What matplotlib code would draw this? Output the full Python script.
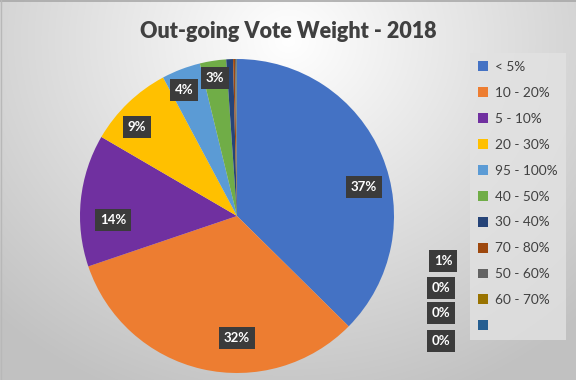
import numpy as np
import matplotlib
matplotlib.use("Agg")
import matplotlib.pyplot as plt
from matplotlib.patches import Patch

plt.rcParams['font.family'] = ['Lato', 'DejaVu Sans']

categories = ["< 5%", "10 - 20%", "5 - 10%", "20 - 30%", "95 - 100%", "40 - 50%",
              "30 - 40%", "70 - 80%", "50 - 60%", "60 - 70%", ""]
values = [37.4, 32.4, 13.6, 8.8, 4.0, 2.7, 0.7, 0.2, 0.1, 0.05, 0.05]
labels = ["37%", "32%", "14%", "9%", "4%", "3%", "1%", "0%", "0%", "0%", None]
colors = ["#4472C4", "#ED7D31", "#7030A0", "#FFC000", "#5B9BD5", "#70AD47",
          "#264478", "#9E480E", "#636363", "#997300", "#255E91"]
# label anchor positions in pie units (radius = 1)
label_pos = [(0.81, 0.185), (0.0, -0.777), (-0.79, -0.025), (-0.637, 0.567),
             (-0.338, 0.803), (-0.14, 0.879), (1.312, -0.287), (1.299, -0.459),
             (1.299, -0.618), (1.299, -0.796), None]

W, H = 576, 380
fig = plt.figure(figsize=(W / 100, H / 100), dpi=100)

# background radial gradient
bg = fig.add_axes([0, 0, 1, 1])
yy, xx = np.mgrid[0:H, 0:W]
d = np.sqrt(((xx - 288) / 420.0) ** 2 + ((yy - 40) / 380.0) ** 2)
d = np.clip(d, 0, 1)
v = 1.0 - 0.24 * d
img = np.dstack([v, v, v])
bg.imshow(img, extent=[0, W, H, 0], aspect='auto', interpolation='bilinear')
bg.set_xlim(0, W)
bg.set_ylim(H, 0)
bg.axis('off')
bg.plot([0, W], [0.6, 0.6], color='#a8a8a8', lw=1.2)
bg.plot([0.6, 0.6], [0, H], color='#b8b8b8', lw=1.0)

# pie axes
cx, cy, r = 237, 216, 157
ax = fig.add_axes([(cx - r) / W, (H - cy - r) / H, 2 * r / W, 2 * r / H])
wedges, _ = ax.pie(values, colors=colors, startangle=90, counterclock=False,
                   radius=1.0, wedgeprops=dict(linewidth=0, edgecolor='none'))
ax.set_xlim(-1, 1)
ax.set_ylim(-1, 1)
ax.set_aspect('equal')
ax.axis('off')

for lab, pos in zip(labels, label_pos):
    if lab is None:
        continue
    ax.text(pos[0], pos[1], lab, ha='center', va='center', color='white',
            fontsize=9.5, fontweight='bold', clip_on=False, zorder=5,
            bbox=dict(boxstyle='square,pad=0.38', facecolor='#3b3b3b',
                      edgecolor='none'))

fig.text(0.5, 1 - 32 / H, "Out-going Vote Weight - 2018", ha='center', va='center',
         fontsize=15.5, fontweight='heavy', color='#404040')

handles = [Patch(facecolor=c, edgecolor='none') for c in colors]
leg = fig.legend(handles, categories, loc='upper left',
                 bbox_to_anchor=(470 / W, 1 - 53 / H), frameon=True,
                 fontsize=9.8, labelcolor='#404040', handlelength=0.75,
                 handleheight=0.75, handletextpad=0.5, labelspacing=1.02,
                 borderpad=0.6, borderaxespad=0, fancybox=False)
leg.get_frame().set_facecolor('#e2e2e2')
leg.get_frame().set_edgecolor('none')
leg.get_frame().set_alpha(0.8)

fig.savefig("out.png", dpi=100)
